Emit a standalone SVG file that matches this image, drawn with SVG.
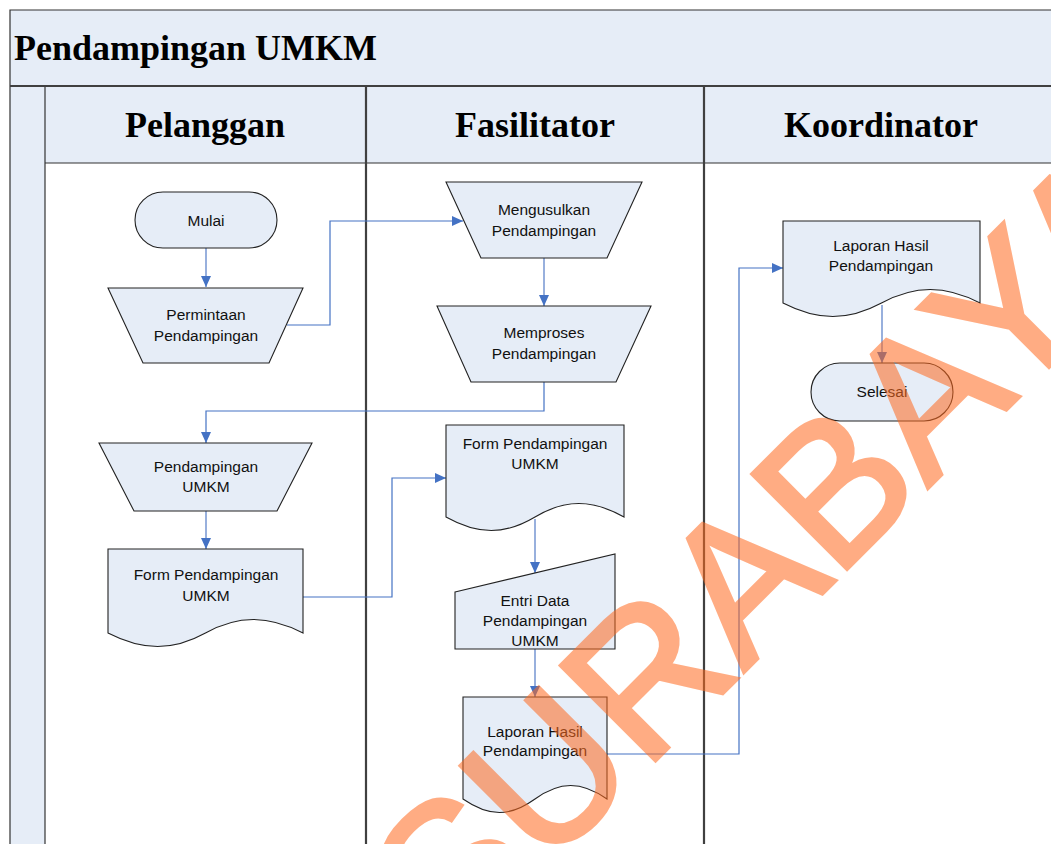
<svg xmlns="http://www.w3.org/2000/svg" width="1051" height="844" viewBox="0 0 1051 844">
<defs>
<marker id="ah" markerUnits="userSpaceOnUse" markerWidth="12" markerHeight="12" viewBox="0 0 12 12" refX="11" refY="6" orient="auto">
<path d="M0,1 L11,6 L0,11 Z" fill="#4472C4"/>
</marker>
</defs>
<style>
.band{fill:#E6EDF7;stroke:none}
.frame{stroke:#333;stroke-width:1.2;fill:none}
.div{stroke:#404040;stroke-width:2.2;fill:none}
.title{font-family:"Liberation Serif","Times New Roman",serif;font-weight:bold;font-size:36px;fill:#000}
.shape{fill:#E6EDF7;stroke:#222;stroke-width:1.1}
.lbl{font-family:"Liberation Sans",Arial,sans-serif;font-size:15.5px;fill:#111;text-anchor:middle}
.c1{stroke:#8DA8DA;stroke-width:1.8;fill:none}
.c2{stroke:#4472C4;stroke-width:1.2;fill:none}
.wm{font-family:"Liberation Sans",Arial,sans-serif;font-size:195px;fill:#FF6A1F;stroke:#FF6A1F;stroke-width:4;stroke-linejoin:miter;opacity:0.55;text-anchor:middle}
</style>
<rect width="1051" height="844" fill="#fff"/>
<g id="pool">
<rect class="band" x="10" y="10" width="1041" height="76"/>
<rect class="band" x="10" y="86" width="35" height="758"/>
<rect class="band" x="45" y="86" width="1006" height="77"/>
<path class="frame" d="M1051,10 H10 V844"/>
<path class="frame" d="M45,86 V844"/>
<path class="div" d="M10,86 H1051"/>
<path class="frame" d="M45,163 H1051"/>
<path class="div" d="M366,86 V844 M704,86 V844"/>
<text class="title" x="14" y="60">Pendampingan UMKM</text>
<text class="title" x="205" y="137" text-anchor="middle">Pelanggan</text>
<text class="title" x="535" y="137" text-anchor="middle">Fasilitator</text>
<text class="title" x="881" y="137" text-anchor="middle">Koordinator</text>
</g>
<g id="connectors">
<path class="c1" d="M206,248 V287" marker-end="url(#ah)"/>
<path class="c2" d="M287,325 H330 V221 H463" marker-end="url(#ah)"/>
<path class="c1" d="M544,258 V306" marker-end="url(#ah)"/>
<path class="c2" d="M544,382 V411 H206 V443" marker-end="url(#ah)"/>
<path class="c1" d="M206,511 V549" marker-end="url(#ah)"/>
<path class="c2" d="M303,597 H392 V478 H446" marker-end="url(#ah)"/>
<path class="c1" d="M535,519 V573" marker-end="url(#ah)"/>
<path class="c1" d="M535,649 V697" marker-end="url(#ah)"/>
<path class="c2" d="M607,754 H739 V268 H783" marker-end="url(#ah)"/>
<path class="c1" d="M882,305 V363" marker-end="url(#ah)"/>
</g>
<g id="mulai">
<rect class="shape" x="135" y="192" width="142" height="56" rx="28"/>
<text class="lbl" x="206" y="226">Mulai</text>
</g>
<g id="permintaan">
<polygon class="shape" points="108,288 303,288 269,363 143,363"/>
<text class="lbl" x="206" y="320">Permintaan</text>
<text class="lbl" x="206" y="341">Pendampingan</text>
</g>
<g id="mengusulkan">
<polygon class="shape" points="446,182 642,182 607,258 481,258"/>
<text class="lbl" x="544" y="215">Mengusulkan</text>
<text class="lbl" x="544" y="236">Pendampingan</text>
</g>
<g id="memproses">
<polygon class="shape" points="437,306 651,306 616,382 471,382"/>
<text class="lbl" x="544" y="338">Memproses</text>
<text class="lbl" x="544" y="359">Pendampingan</text>
</g>
<g id="pendampingan-umkm">
<polygon class="shape" points="99,443 312,443 277,511 134,511"/>
<text class="lbl" x="206" y="472">Pendampingan</text>
<text class="lbl" x="206" y="492">UMKM</text>
</g>
<g id="form-pelanggan">
<path class="shape" d="M108,549 H303 V633 C268,615 238,615 205.5,633 C173,651 143,651 108,633 Z"/>
<text class="lbl" x="206" y="580">Form Pendampingan</text>
<text class="lbl" x="206" y="601">UMKM</text>
</g>
<g id="form-fasilitator">
<path class="shape" d="M446,425 H624 V517 C592,499 565,499 535,517 C505,535 478,535 446,517 Z"/>
<text class="lbl" x="535" y="449">Form Pendampingan</text>
<text class="lbl" x="535" y="469">UMKM</text>
</g>
<g id="entri-data">
<polygon class="shape" points="455,592 615,554 615,649 455,649"/>
<text class="lbl" x="535" y="606">Entri Data</text>
<text class="lbl" x="535" y="626">Pendampingan</text>
<text class="lbl" x="535" y="646">UMKM</text>
</g>
<g id="laporan-fasilitator">
<path class="shape" d="M463,697 H607 V799 C581,781 560,781 535,799 C510,817 489,817 463,799 Z"/>
<text class="lbl" x="535" y="737">Laporan Hasil</text>
<text class="lbl" x="535" y="756">Pendampingan</text>
</g>
<g id="laporan-koordinator">
<path class="shape" d="M783,221 H980 V303 C945,285 915,285 881.5,303 C848,321 818,321 783,303 Z"/>
<text class="lbl" x="881" y="251">Laporan Hasil</text>
<text class="lbl" x="881" y="271">Pendampingan</text>
</g>
<g id="selesai">
<rect class="shape" x="811" y="363" width="142" height="58" rx="29"/>
<text class="lbl" x="882" y="397">Selesai</text>
</g>
<text class="wm" x="818" y="598" transform="rotate(-45 818 598)">SURABAYA</text>
</svg>
